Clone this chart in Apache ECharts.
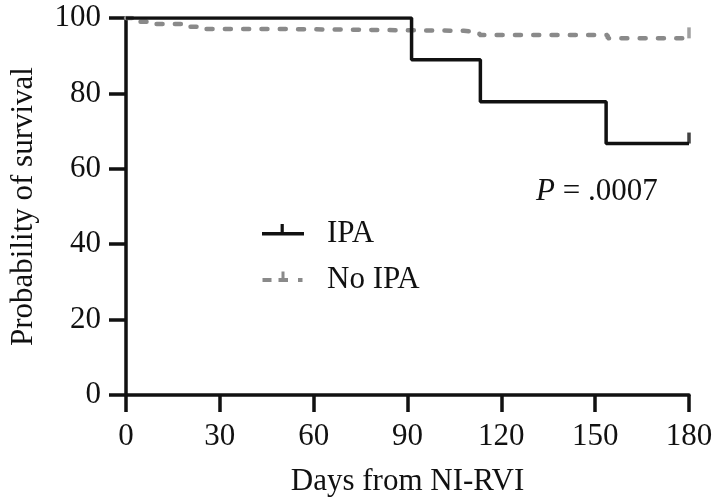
<!DOCTYPE html>
<html>
<head>
<meta charset="utf-8">
<script src="https://cdn.jsdelivr.net/npm/echarts@6/dist/echarts.min.js"></script>
<style>html,body{margin:0;padding:0;background:#fff;}#c{width:716px;height:502px;}</style>
</head>
<body>
<div id="c"></div>
<script>
// Data (days, % survival)
const ipaDays   = [0, 91.3, 113.3, 153.5, 180];
const ipaSurv   = [100, 88.9, 77.8, 66.7, 66.7];
const noIpaDays = [0, 3.5, 8, 20.5, 25.5, 48, 108, 113, 154, 180];
const noIpaSurv = [100, 99.0, 98.4, 97.7, 97.1, 96.6, 96.2, 95.5, 94.6, 94.6];
const ipaCensorDays = [180];
const ipaCensorSurv = [66.7];
const noIpaCensorDays = [180];
const noIpaCensorSurv = [94.6];
const xTicks = [0, 30, 60, 90, 120, 150, 180];
const yTicks = [0, 20, 40, 60, 80, 100];
const seriesNames = ['IPA', 'No IPA'];
const pText = '.0007';

const FONT = 'Liberation Serif';
const BLACK = '#111111';
const GRAY = '#8a8a8a';
// censor tick symbol: invisible bounding moves keep the tick in the upper half
const tickPath = 'path://M0,0 M10,10 M4.2,0 L5.8,0 L5.8,5 L4.2,5 Z';
// legend icons (line + censor tick), drawn in a 42x22 box
const ipaIcon = 'path://M0,0 M42,22 M0,9.4 L42,9.4 L42,12.9 L0,12.9 Z M18.6,1.5 L21.8,1.5 L21.8,11 L18.6,11 Z';
const noIpaIcon = 'path://M0,0 M42,22 M0.5,9.5 L9.5,9.5 L9.5,13.5 L0.5,13.5 Z M16.5,9.5 L26,9.5 L26,13.5 L16.5,13.5 Z M19.5,3 L22.5,3 L22.5,11 L19.5,11 Z M36,9.5 L40.5,9.5 L40.5,13.5 L36,13.5 Z';

const zip = (a, b) => a.map((v, i) => [v, b[i]]);

const chart = echarts.init(document.getElementById('c'), null, {renderer: 'canvas'});
chart.setOption({
  animation: false,
  backgroundColor: '#ffffff',
  grid: {left: 125, right: 27, top: 18, bottom: 106, containLabel: false},
  title: {
    text: '{i|P} = ' + pText,
    left: 531, top: 171,
    textStyle: {
      fontFamily: FONT, fontSize: 31, fontWeight: 'normal', color: BLACK,
      rich: {i: {fontFamily: FONT, fontSize: 31, fontStyle: 'italic', color: BLACK}}
    }
  },
  legend: {
    data: [
      {name: seriesNames[0], icon: ipaIcon},
      {name: seriesNames[1], icon: noIpaIcon}
    ],
    orient: 'vertical',
    left: 257, top: 213,
    itemWidth: 42, itemHeight: 22, itemGap: 15,
    itemStyle: {borderWidth: 0},
    textStyle: {fontFamily: FONT, fontSize: 31, color: BLACK, padding: [0, 0, 0, 18]},
    selectedMode: false
  },
  xAxis: {
    type: 'value', min: xTicks[0], max: xTicks[xTicks.length - 1], interval: 30,
    name: 'Days from NI-RVI', nameLocation: 'middle', nameGap: 71,
    nameTextStyle: {fontFamily: FONT, fontSize: 31, color: BLACK},
    axisLine: {show: true, onZero: false, lineStyle: {color: BLACK, width: 3.5}},
    axisTick: {show: true, inside: false, length: 17, lineStyle: {color: BLACK, width: 3.5}},
    axisLabel: {fontFamily: FONT, fontSize: 31, color: BLACK, margin: 26},
    splitLine: {show: false}
  },
  yAxis: {
    type: 'value', min: yTicks[0], max: yTicks[yTicks.length - 1], interval: 20,
    name: 'Probability of survival', nameLocation: 'middle', nameGap: 87,
    nameTextStyle: {fontFamily: FONT, fontSize: 31, color: BLACK},
    axisLine: {show: true, onZero: false, lineStyle: {color: BLACK, width: 3.5}},
    axisTick: {show: true, inside: false, length: 17, lineStyle: {color: BLACK, width: 3.5}},
    axisLabel: {fontFamily: FONT, fontSize: 31, color: BLACK, margin: 25},
    splitLine: {show: false}
  },
  series: [
    {
      name: seriesNames[1], type: 'line', step: 'end',
      data: zip(noIpaDays, noIpaSurv),
      symbol: 'none',
      itemStyle: {color: GRAY},
      lineStyle: {color: GRAY, width: 4.5, type: [6, 12.3], cap: 'round'},
      z: 2
    },
    {
      name: seriesNames[0], type: 'line', step: 'end',
      data: zip(ipaDays, ipaSurv),
      symbol: 'none',
      itemStyle: {color: BLACK},
      lineStyle: {color: BLACK, width: 3.5},
      z: 3
    },
    {
      name: 'No IPA censored', type: 'scatter',
      data: zip(noIpaCensorDays, noIpaCensorSurv),
      symbol: tickPath, symbolSize: 22,
      itemStyle: {color: GRAY}, z: 4
    },
    {
      name: 'IPA censored', type: 'scatter',
      data: zip(ipaCensorDays, ipaCensorSurv),
      symbol: tickPath, symbolSize: 22,
      itemStyle: {color: BLACK}, z: 4
    }
  ]
});
</script>
</body>
</html>
